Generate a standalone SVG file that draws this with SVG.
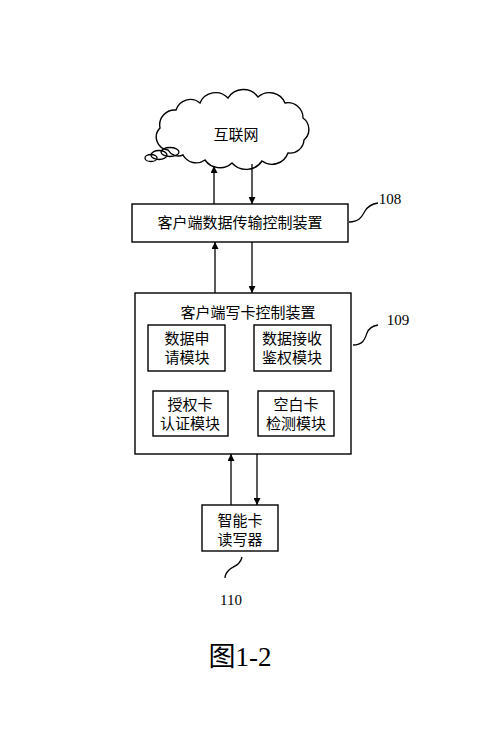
<svg xmlns="http://www.w3.org/2000/svg" width="500" height="732" viewBox="0 0 500 732">
<defs>
<marker id="ah" viewBox="0 0 10 10" refX="10" refY="5" markerWidth="7" markerHeight="7" markerUnits="userSpaceOnUse" orient="auto">
<path d="M0,0 L10,5 L0,10 Z" fill="#000"/>
</marker>
</defs>
<style>
.box{fill:#fff;stroke:#000;stroke-width:1.4}
.ln{fill:none;stroke:#000;stroke-width:1.3}
.cn{fill:none;stroke:#000;stroke-width:1.3;marker-end:url(#ah)}
.t{font-family:"Noto Sans CJK SC","Noto Sans",sans-serif;font-size:15px;fill:#000;text-anchor:middle}
.n{font-family:"Liberation Serif",serif;font-size:15px;fill:#000;text-anchor:middle}
</style>
<rect width="500" height="732" fill="#fff"/>
<g id="internet">
<path class="box" d="M168,150 A13,13 0 0 1 160,128 A15,15 0 0 1 176,110 A15,15 0 0 1 200,103 A17,17 0 0 1 228,98 A18,18 0 0 1 258,97 A17,17 0 0 1 285,103 A15,15 0 0 1 303,118 A14,14 0 0 1 304,140 A14,14 0 0 1 288,153 A17,17 0 0 1 262,161 A19,19 0 0 1 232,163 A18,18 0 0 1 205,160 A15,15 0 0 1 183,155 A12,12 0 0 1 168,150 Z"/>
<ellipse class="ln" cx="170" cy="152" rx="9" ry="4.5"/>
<ellipse class="ln" cx="159" cy="155" rx="8" ry="4.5"/>
<ellipse class="ln" cx="151" cy="158" rx="6" ry="3.5"/>
<text class="t" x="236" y="140">互联网</text>
</g>
<g id="n108">
<rect class="box" x="132" y="204" width="216" height="38"/>
<text class="t" x="240" y="228">客户端数据传输控制装置</text>
<path class="ln" d="M349,222 C360,222 362,216 365,211 C368,206 372,204 378,203"/>
<text class="n" x="390" y="204">108</text>
</g>
<g id="n109">
<rect class="box" x="135" y="293" width="216" height="161"/>
<text class="t" x="248" y="318">客户端写卡控制装置</text>
<path class="ln" d="M353,345 C364,345 365,338 367,333 C369,328 372,326 378,325"/>
<text class="n" x="398" y="325">109</text>
</g>
<g id="m1">
<rect class="box" x="148" y="325" width="77" height="46"/>
<text class="t" x="187" y="344">数据申</text>
<text class="t" x="187" y="363">请模块</text>
</g>
<g id="m2">
<rect class="box" x="254" y="325" width="77" height="46"/>
<text class="t" x="292" y="344">数据接收</text>
<text class="t" x="292" y="363">鉴权模块</text>
</g>
<g id="m3">
<rect class="box" x="153" y="391" width="75" height="45"/>
<text class="t" x="190" y="410">授权卡</text>
<text class="t" x="190" y="429">认证模块</text>
</g>
<g id="m4">
<rect class="box" x="258" y="391" width="76" height="45"/>
<text class="t" x="296" y="410">空白卡</text>
<text class="t" x="296" y="429">检测模块</text>
</g>
<g id="n110">
<rect class="box" x="202" y="505" width="76" height="46"/>
<text class="t" x="240" y="526">智能卡</text>
<text class="t" x="240" y="545">读写器</text>
<path class="ln" d="M242,557 C240,566 233,566 229,570 C226,573 225,576 225,578"/>
<text class="n" x="231" y="605">110</text>
</g>
<g id="connectors">
<line class="cn" x1="214" y1="204" x2="214" y2="166"/>
<line class="cn" x1="252" y1="164" x2="252" y2="204"/>
<line class="cn" x1="215" y1="293" x2="215" y2="242"/>
<line class="cn" x1="252" y1="242" x2="252" y2="293"/>
<line class="cn" x1="231" y1="505" x2="231" y2="454"/>
<line class="cn" x1="257" y1="454" x2="257" y2="505"/>
</g>
<text x="240" y="666" style="font-family:'Liberation Serif','Noto Sans CJK SC',serif;font-size:27px;text-anchor:middle">图1-2</text>
</svg>
